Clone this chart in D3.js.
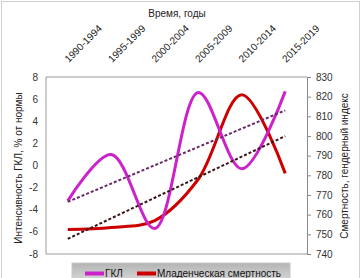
<!DOCTYPE html>
<html><head><meta charset="utf-8">
<script src="https://cdn.jsdelivr.net/npm/d3@7"></script>
<style>
html,body{margin:0;padding:0;background:#fff;}
svg{display:block;font-family:"Liberation Sans",Arial,sans-serif;}
</style></head><body>
<svg id="c" width="362" height="278"></svg>
<script>
const categories = ["1990-1994","1995-1999","2000-2004","2005-2009","2010-2014","2015-2019"];
const gklValues = [-3.2, 1.0, -5.7, 6.6, -0.3, 6.7];
const mortalityValues = [752.5, 753.5, 757, 778, 821, 781];
const leftTicks = [-8,-6,-4,-2,0,2,4,6,8];
const rightTicks = [740,750,760,770,780,790,800,810,820,830];
const seriesNames = ["ГКЛ","Младенческая смертность"];
const xTitle = "Время, годы";
const yLeftTitle = "Интенсивность ГКЛ, % от нормы";
const yRightTitle = "Смертность, гендерный индекс";

const svg = d3.select("#c");
const L = 46, R = 307, T = 77, B = 254;

svg.append("rect").attr("x",1.5).attr("y",1.5).attr("width",358).attr("height",290)
  .attr("fill","none").attr("stroke","#d0d0d0");

const x = d3.scalePoint().domain(categories).range([L, R]).padding(0.5);
const yL = d3.scaleLinear().domain([-8, 8]).range([B, T]);
const yR = d3.scaleLinear().domain([740, 830]).range([B, T]);

svg.append("path").attr("d", `M${R},${T}H${L}V${B}H${R}`).attr("fill","none").attr("stroke","#9a9a9a").attr("stroke-width",1);

svg.append("g").selectAll("text").data(leftTicks).join("text")
  .attr("x", 38).attr("y", d => yL(d)).attr("dy","0.35em").attr("text-anchor","end")
  .attr("font-size", 10).attr("fill","#333").text(d => d);

const rAxis = svg.append("g").attr("transform", `translate(${R},0)`)
  .call(d3.axisRight(yR).tickValues(rightTicks).tickSize(4).tickPadding(5));
rAxis.select(".domain").attr("stroke","#8a8a8a");
rAxis.selectAll(".tick line").attr("stroke","#8a8a8a");
rAxis.selectAll("text").attr("font-size",10).attr("fill","#333").attr("font-family","Liberation Sans, Arial, sans-serif");

svg.append("g").selectAll("text").data(categories).join("text")
  .attr("transform", d => `translate(${x(d)+1},${63}) rotate(-45)`)
  .attr("text-anchor","start").attr("font-size",10).attr("fill","#222")
  .text(d => d);

svg.append("text").attr("x",177).attr("y",17).attr("text-anchor","middle")
  .attr("font-size",10).attr("fill","#222").text(xTitle);
svg.append("text").attr("transform",`translate(22,168) rotate(-90)`).attr("text-anchor","middle")
  .attr("font-size",10).attr("fill","#222").text(yLeftTitle);
svg.append("text").attr("transform",`translate(348,166) rotate(-90)`).attr("text-anchor","middle")
  .attr("font-size",10).attr("fill","#222").text(yRightTitle);

function trend(vals){
  const n = vals.length, xs = d3.range(1,n+1);
  const mx = d3.mean(xs), my = d3.mean(vals);
  const s = d3.sum(xs, (xi,i)=>(xi-mx)*(vals[i]-my)) / d3.sum(xs, xi=>(xi-mx)*(xi-mx));
  return xs.map(xi => my + s*(xi-mx));
}
const gklTrend = trend(gklValues);
const morTrend = trend(mortalityValues);

const lineL = d3.line().x((d,i)=>x(categories[i])).y(d=>yL(d));
const lineR = d3.line().x((d,i)=>x(categories[i])).y(d=>yR(d));
const smoothL = d3.line().x((d,i)=>x(categories[i])).y(d=>yL(d)).curve(d3.curveCatmullRom.alpha(0.5));
const smoothR = d3.line().x((d,i)=>x(categories[i])).y(d=>yR(d)).curve(d3.curveCatmullRom.alpha(0.5));

svg.append("path").attr("d", smoothR(mortalityValues)).attr("fill","none")
  .attr("stroke","#cc0000").attr("stroke-width",3);
svg.append("path").attr("d", smoothL(gklValues)).attr("fill","none")
  .attr("stroke","#cc22cc").attr("stroke-width",3);

svg.append("path").attr("d", lineL(gklTrend)).attr("fill","none")
  .attr("stroke","#6a2a6a").attr("stroke-width",2).attr("stroke-dasharray","3,2");
svg.append("path").attr("d", lineR(morTrend)).attr("fill","none")
  .attr("stroke","#3a1616").attr("stroke-width",2).attr("stroke-dasharray","3,2");

const defs = svg.append("defs");
const g = defs.append("linearGradient").attr("id","lg").attr("x1",0).attr("y1",0).attr("x2",0).attr("y2",1);
g.append("stop").attr("offset","0%").attr("stop-color","#b4b4b4");
g.append("stop").attr("offset","100%").attr("stop-color","#e2e2e2");
svg.append("rect").attr("x",72).attr("y",263).attr("width",218).attr("height",24)
  .attr("fill","url(#lg)").attr("stroke","#c8c8c8");
const legendColors = ["#cc22cc","#cc0000"];
const legendX = [85, 137];
seriesNames.forEach((nm,i)=>{
  svg.append("line").attr("x1",legendX[i]).attr("x2",legendX[i]+19).attr("y1",273.5).attr("y2",273.5)
    .attr("stroke",legendColors[i]).attr("stroke-width",4);
  svg.append("text").attr("x",legendX[i]+20).attr("y",276.5).attr("font-size",10).attr("fill","#111").text(nm);
});
</script>
</body></html>
